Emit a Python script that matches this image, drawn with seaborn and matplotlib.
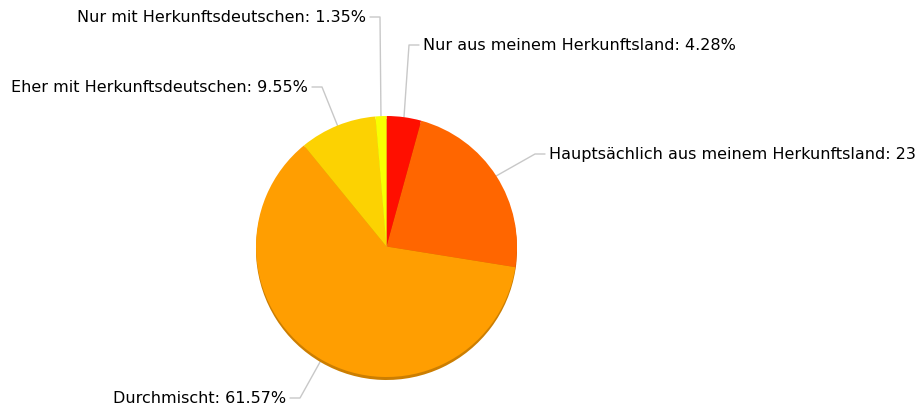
import matplotlib
matplotlib.use('Agg')
import matplotlib.pyplot as plt
import numpy as np
import seaborn as sns

# Daten
labels = ['Nur aus meinem Herkunftsland', 'Hauptsächlich aus meinem Herkunftsland',
          'Durchmischt', 'Eher mit Herkunftsdeutschen', 'Nur mit Herkunftsdeutschen']
values = [4.28, 23.25, 61.57, 9.55, 1.35]
colors = ['#FF0F00', '#FF6600', '#FF9E01', '#FCD202', '#F8FF01']

sns.set_theme(style='white')
plt.rcParams['font.family'] = ['DejaVu Sans']

W, H = 917, 410
fig = plt.figure(figsize=(W / 100, H / 100), dpi=100)
ax = fig.add_axes([0, 0, 1, 1])

cx, cy, r = 386.5, H - 247.5, 130.5
palette = sns.color_palette(colors)
shadow = [tuple(c * 0.8 for c in col) for col in palette]

# Schatten
ax.pie(values, colors=shadow, startangle=90, counterclock=False,
       center=(cx, cy - 3), radius=r, wedgeprops=dict(linewidth=0))
wedges, _ = ax.pie(values, colors=palette, startangle=90, counterclock=False,
                   center=(cx, cy), radius=r, wedgeprops=dict(linewidth=0))

# Beschriftungen: (Knickpunkt x, y in Pixeln, Richtung)
# wie im Original läuft der rechte Text über den Rand hinaus
layout = [(409, 46, 1), (535, 155, 1), (300, 399, -1), (322, 88, -1), (380, 18, -1)]
for w, lab, val, (ex, ey, side) in zip(wedges, labels, values, layout):
    ang = np.deg2rad((w.theta1 + w.theta2) / 2)
    x0, y0 = cx + r * np.cos(ang), cy + r * np.sin(ang)
    ey = H - ey
    hx = ex + side * 10
    ax.plot([x0, ex, hx], [y0, ey, ey], color='#c8c8c8', linewidth=1, zorder=0)
    ax.text(hx + side * 4, ey, f'{lab}: {val:.2f}%', fontsize=11.5, color='#000000',
            ha='left' if side > 0 else 'right', va='center')

ax.set_xlim(0, W)
ax.set_ylim(0, H)
ax.set_aspect('equal')
ax.axis('off')

fig.savefig('out.png', dpi=100, facecolor='white')
